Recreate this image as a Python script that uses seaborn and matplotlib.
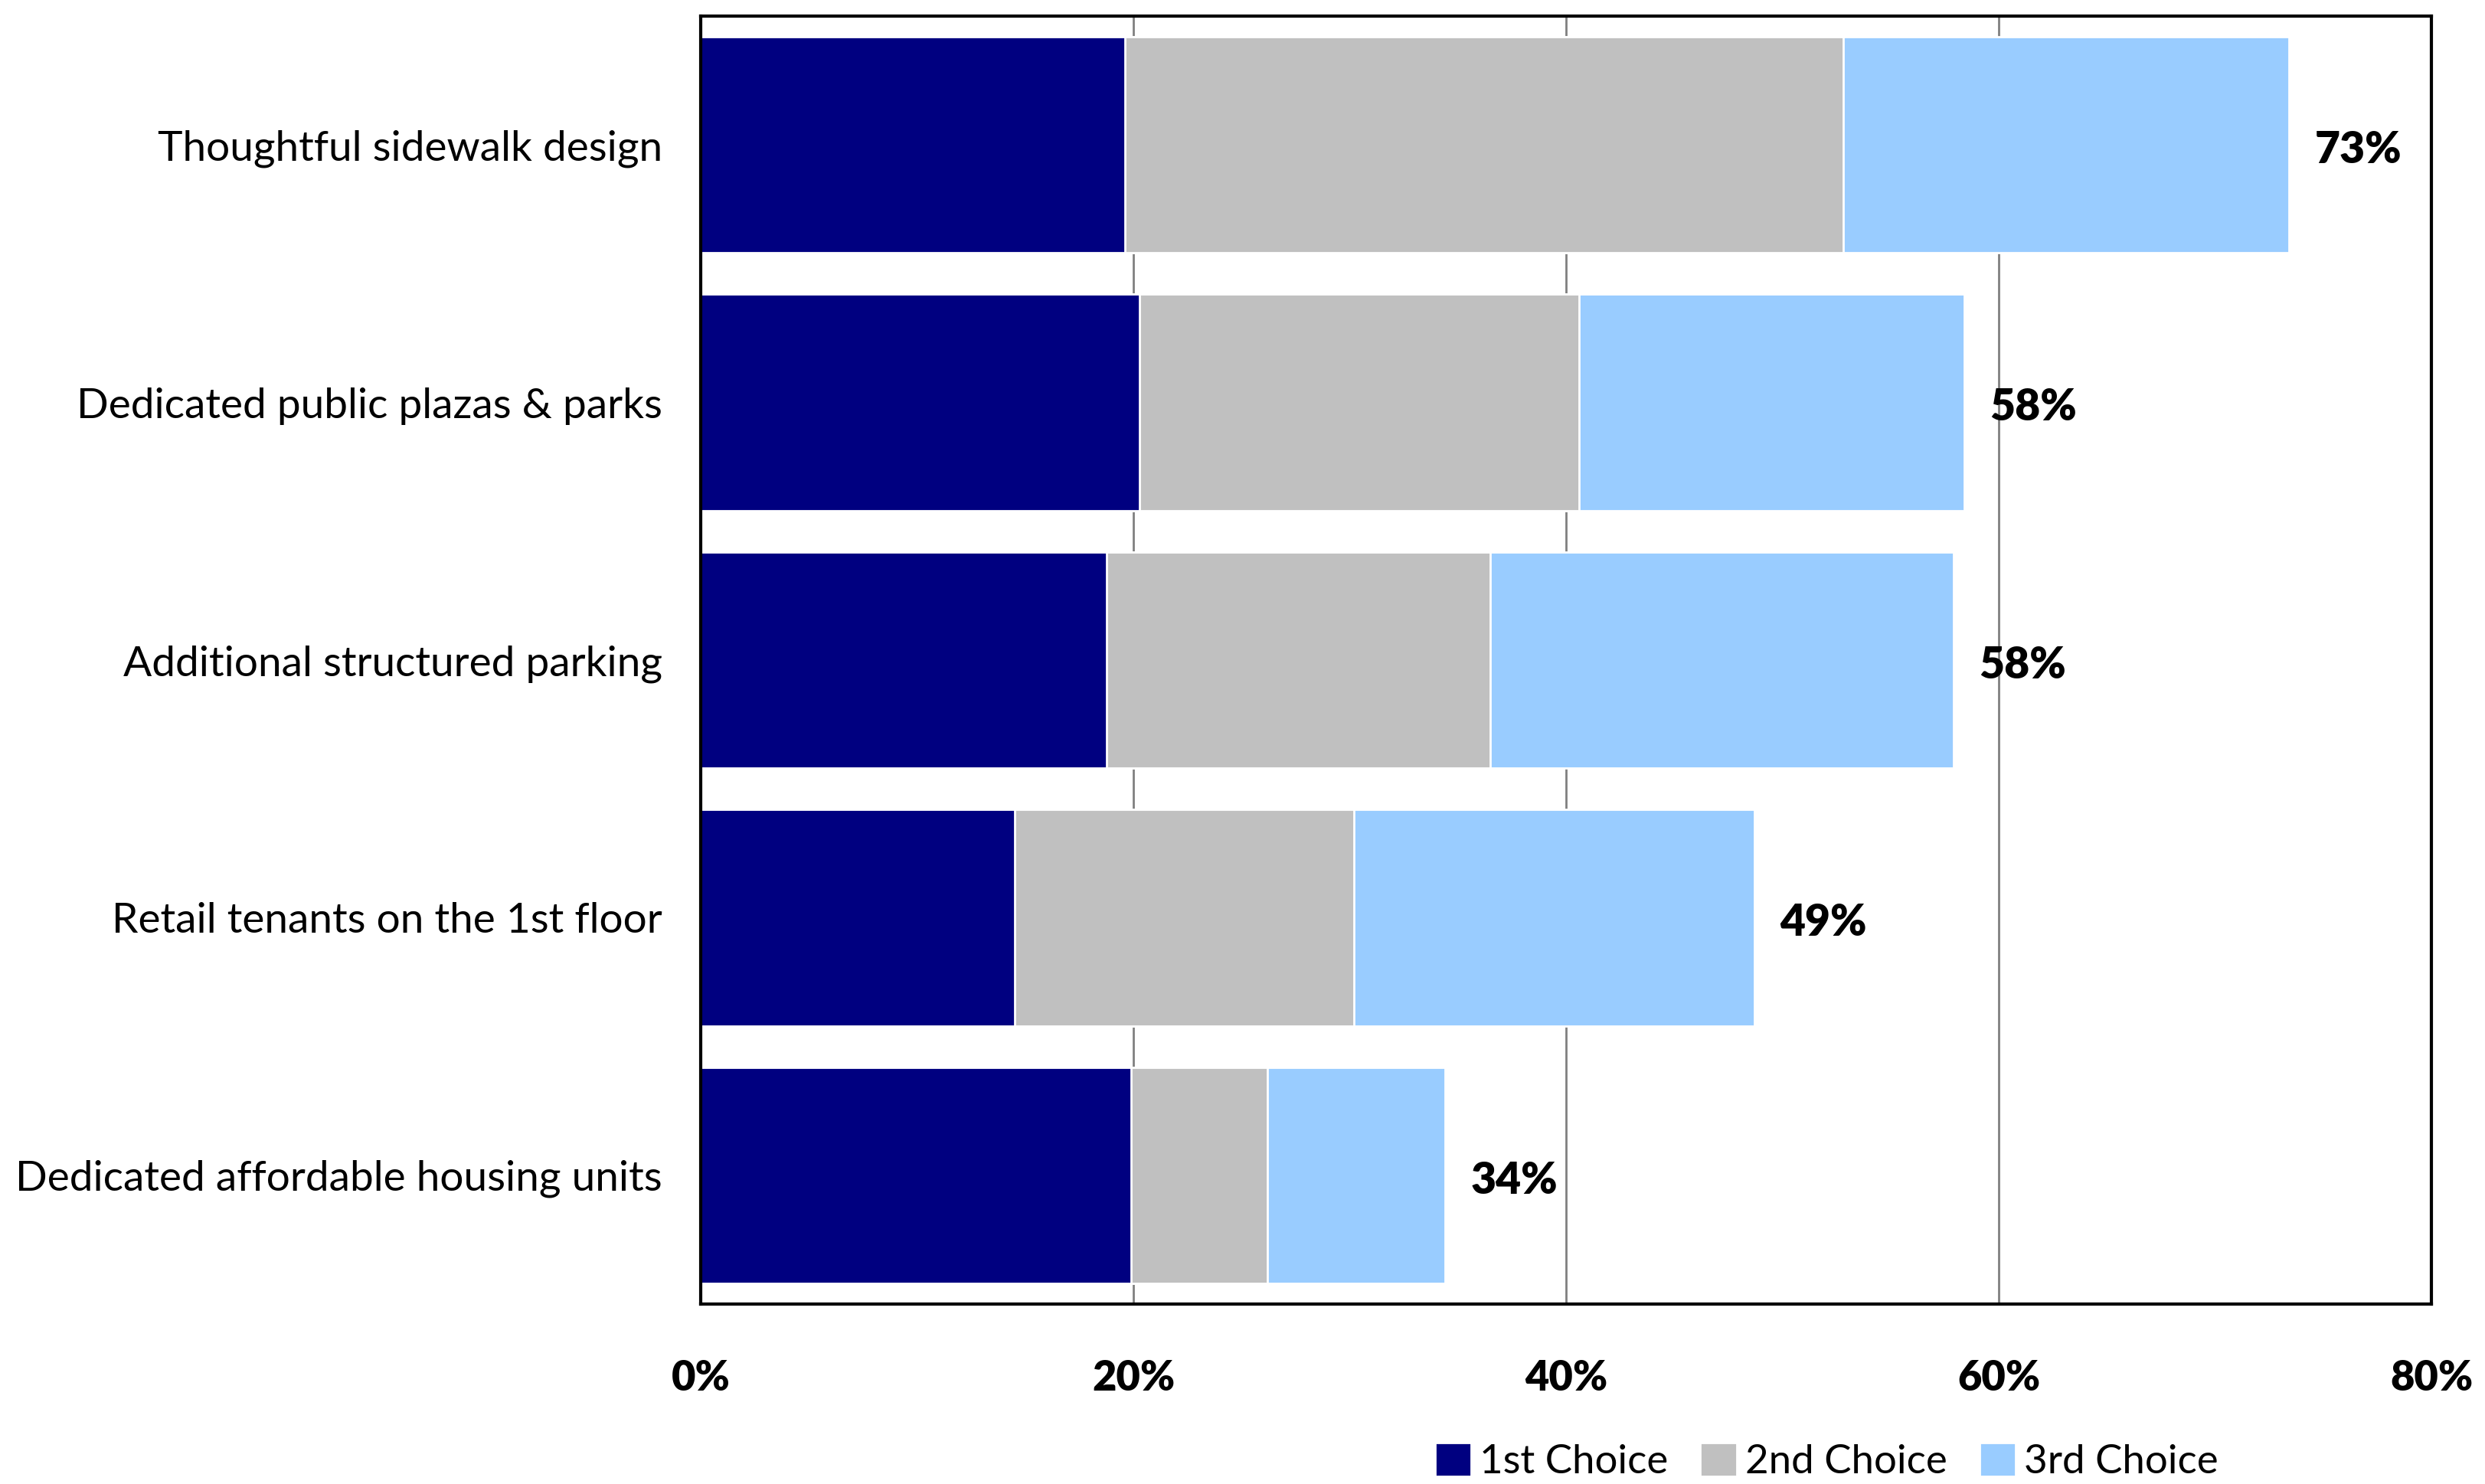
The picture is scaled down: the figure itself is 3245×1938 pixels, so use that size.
import pandas as pd
import numpy as np
import seaborn as sns
import matplotlib.pyplot as plt
from matplotlib.patches import Patch
from matplotlib.ticker import FuncFormatter

categories = ["Thoughtful sidewalk design", "Dedicated public plazas & parks",
              "Additional structured parking", "Retail tenants on the 1st floor",
              "Dedicated affordable housing units"]
first = [19.6, 20.3, 18.75, 14.5, 19.9]
second = [33.2, 20.3, 17.75, 15.7, 6.3]
third = [20.6, 17.8, 21.4, 18.5, 8.2]
series_names = ["1st Choice", "2nd Choice", "3rd Choice"]
colors = ["#000080", "#C0C0C0", "#99CCFF"]
xticks = [0, 20, 40, 60, 80]

sns.set_style("white")
plt.rcParams['font.family'] = ['Lato', 'DejaVu Sans']
plt.rcParams['text.color'] = 'black'
plt.rcParams['xtick.color'] = 'black'
plt.rcParams['ytick.color'] = 'black'

df = pd.DataFrame({"cat": categories, "c1": first, "c2": second, "c3": third})
df["s1"] = df["c1"]
df["s2"] = df["c1"] + df["c2"]
df["s3"] = df["s2"] + df["c3"]

fig = plt.figure(figsize=(16.225, 9.69), dpi=200)
ax = fig.add_axes([915 / 3245, 1 - 1703 / 1938, (3175 - 915) / 3245, (1703 - 21) / 1938])

# stacked: draw the cumulative sums back to front
for col, c in zip(["s3", "s2", "s1"], colors[::-1]):
    sns.barplot(data=df, x=col, y="cat", orient="h", color=c, width=0.84,
                saturation=1, ax=ax, zorder=2)

for i, tot in enumerate(df["s3"]):
    ax.text(tot + 1.2, i + 0.02, f"{round(tot)}%", va="center", ha="left",
            fontsize=20.5, fontweight="heavy", color="black")

ax.set_xlim(0, 80)
ax.set_ylim(4.5, -0.5)
ax.set_xticks(xticks)
ax.xaxis.set_major_formatter(FuncFormatter(lambda v, p: f"{int(v)}%"))
ax.set_xlabel("")
ax.set_ylabel("")
ax.grid(axis="x", color="#808080", linewidth=1.0, zorder=0)
ax.set_axisbelow(True)
for s in ax.spines.values():
    s.set_color("black")
    s.set_linewidth(1.5)
ax.tick_params(axis="y", labelsize=19.8, length=0, pad=18, labelcolor="black")
ax.tick_params(axis="x", labelsize=19.5, length=0, pad=26, labelcolor="black")
for t in ax.get_xticklabels():
    t.set_fontweight("heavy")

handles = [Patch(facecolor=c, label=n) for c, n in zip(colors, series_names)]
fig.legend(handles=handles, loc="center", bbox_to_anchor=(0.735, 0.015),
           ncol=3, frameon=False, fontsize=19, handlelength=0.9, handleheight=0.9,
           handletextpad=0.2, columnspacing=0.8)

fig.savefig("out.png", dpi=200)
